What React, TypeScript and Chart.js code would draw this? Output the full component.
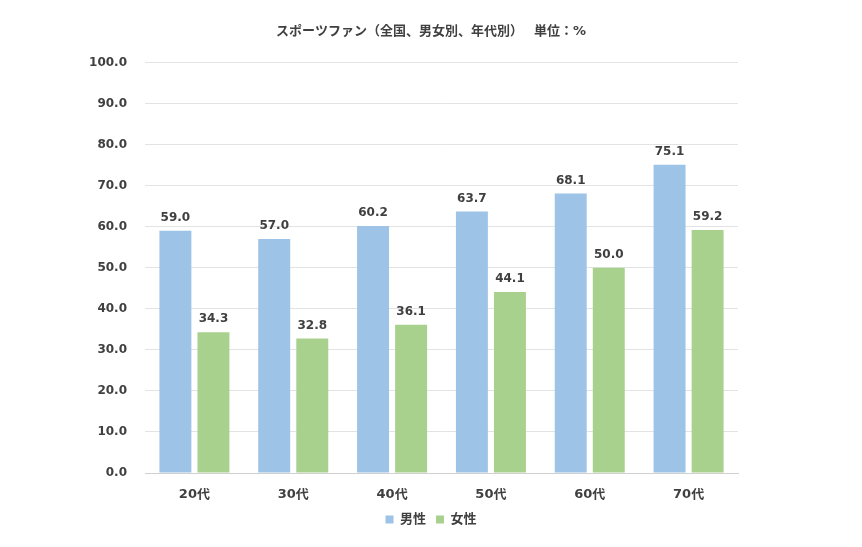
import React, { useEffect, useRef } from "react";
import { Chart, registerables } from "chart.js";

Chart.register(...registerables);

const categories = ["20代", "30代", "40代", "50代", "60代", "70代"];
const maleValues = [59.0, 57.0, 60.2, 63.7, 68.1, 75.1];
const femaleValues = [34.3, 32.8, 36.1, 44.1, 50.0, 59.2];
const seriesNames = ["男性", "女性"];
const titleText = "スポーツファン（全国、男女別、年代別）　 単位：%";

const FONT = "'DejaVu Sans', 'Noto Sans CJK JP', sans-serif";

const valueLabels = {
  id: "valueLabels",
  afterDatasetsDraw(chart: any) {
    const ctx = chart.ctx;
    ctx.save();
    ctx.font = `bold 12px ${FONT}`;
    ctx.fillStyle = "#404040";
    ctx.textAlign = "center";
    ctx.textBaseline = "bottom";
    chart.data.datasets.forEach((ds: any, i: number) => {
      const meta = chart.getDatasetMeta(i);
      if (meta.yAxisID !== "y") return;
      meta.data.forEach((bar: any, j: number) => {
        ctx.fillText(Number(ds.data[j]).toFixed(1), bar.x, bar.y - 7);
      });
    });
    ctx.restore();
  },
};

export default function App() {
  const ref = useRef<HTMLCanvasElement>(null);
  useEffect(() => {
    if (!ref.current) return;
    const chart = new Chart(ref.current, {
      type: "bar",
      data: {
        labels: categories,
        datasets: [
          {
            label: seriesNames[0],
            data: maleValues,
            backgroundColor: "#9dc3e6",
            categoryPercentage: 0.77,
            barPercentage: 0.84,
            yAxisID: "y",
          },
          {
            label: seriesNames[1],
            data: femaleValues,
            backgroundColor: "#a9d18e",
            categoryPercentage: 0.77,
            barPercentage: 0.84,
            yAxisID: "y",
          },
        ],
      },
      plugins: [valueLabels],
      options: {
        animation: false,
        responsive: false,
        devicePixelRatio: 1,
        layout: { padding: { left: 0, right: 0, top: 0, bottom: 11 } },
        plugins: {
          title: {
            display: true,
            text: titleText,
            color: "#404040",
            font: { family: FONT, size: 13, weight: "bold" },
            padding: { top: 24, bottom: 23 },
          },
          legend: {
            position: "bottom",
            labels: {
              color: "#404040",
              font: { family: FONT, size: 13, weight: "bold", lineHeight: 1 },
              boxWidth: 8,
              boxHeight: 8,
              padding: 10,
            },
          },
          tooltip: { enabled: false },
        },
        scales: {
          x: {
            afterFit: (scale: any) => {
              scale.height = 30;
            },
            grid: { display: false, drawTicks: false },
            border: { display: true, color: "#d0d0d0", width: 1 },
            ticks: {
              color: "#404040",
              font: { family: FONT, size: 13, weight: "bold" },
              padding: 14,
            },
          },
          y: {
            min: 0,
            max: 100,
            afterFit: (scale: any) => {
              scale.width = 145;
            },
            grid: { color: "#e3e3e3", drawTicks: false },
            border: { display: false },
            ticks: {
              stepSize: 10,
              color: "#404040",
              font: { family: FONT, size: 12, weight: "bold" },
              padding: 18,
              callback: (v: any) => Number(v).toFixed(1),
            },
          },
          yRight: {
            position: "right",
            min: 0,
            max: 100,
            afterFit: (scale: any) => {
              scale.width = 124;
            },
            grid: { display: false, drawTicks: false },
            border: { display: false },
            ticks: { display: false },
          },
        },
      },
    });
    return () => chart.destroy();
  }, []);
  return (
    <div style={{ position: "fixed", left: 0, top: 0, width: 862, height: 547, background: "#fff" }}>
      <canvas ref={ref} width={862} height={547} style={{ width: 862, height: 547 }} />
    </div>
  );
}
